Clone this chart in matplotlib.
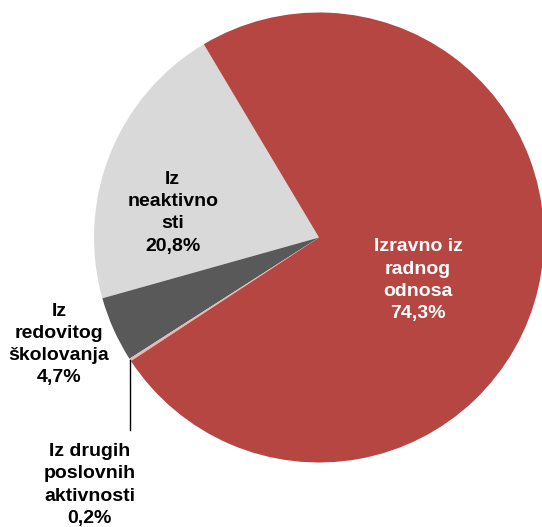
import matplotlib

matplotlib.use("Agg")
import matplotlib.pyplot as plt
import numpy as np

# Struktura ulaska u nezaposlenost (%)
categories = [
    "Iz\nneaktivno\nsti",
    "Iz\nredovitog\nškolovanja",
    "Iz drugih\nposlovnih\naktivnosti",
    "Izravno iz\nradnog\nodnosa",
]
shares = [20.8, 4.7, 0.2, 74.3]
colors = ["#D9D9D9", "#595959", "#E6B9B8", "#B64642"]
text_colors = ["black", "black", "black", "white"]
# label centres in axes data units (pie radius = 1)
label_pos = [(-0.65, 0.11), (-1.156, -0.475), (-1.02, -1.10), (0.44, -0.19)]

W, H = 542, 527
R_PX, CX, CY = 225, 319, 237.5

plt.rcParams["font.family"] = ["Liberation Sans", "DejaVu Sans"]
fig = plt.figure(figsize=(W / 100, H / 100), dpi=100)
ax = fig.add_axes([0, 0, 1, 1])

wedges, _ = ax.pie(
    shares, colors=colors, startangle=120.8, counterclock=True,
    radius=1, center=(0, 0), frame=True,
    wedgeprops=dict(linewidth=0),
)

for cat, val, col, (lx, ly) in zip(categories, shares, text_colors, label_pos):
    txt = f"{cat}\n{val:.1f}%".replace(".", ",")
    ax.text(lx, ly, txt, ha="center", va="center", color=col,
            fontsize=14, fontweight="bold", linespacing=1.4)

# leader line for the tiny slice
w = wedges[2]
mid = np.deg2rad((w.theta1 + w.theta2) / 2)
x0, y0 = np.cos(mid), np.sin(mid)
ax.plot([x0, x0], [y0, -0.857], color="black", lw=1)

ax.set_xlim(-CX / R_PX, (W - CX) / R_PX)
ax.set_ylim(-(H - CY) / R_PX, CY / R_PX)
ax.set_aspect("auto")
ax.axis("off")

fig.savefig("out.png", dpi=100)
